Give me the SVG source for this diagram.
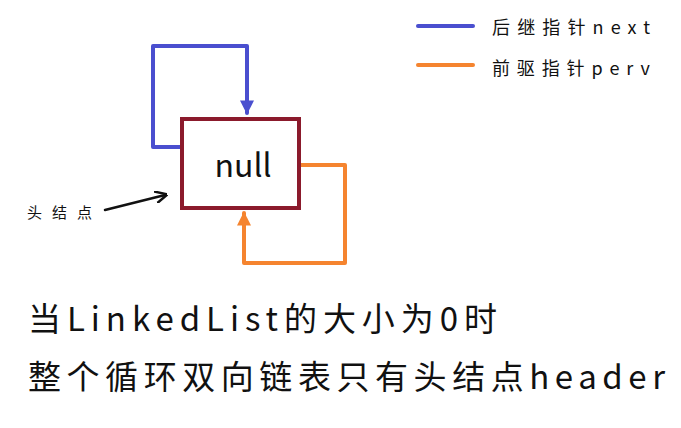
<svg xmlns="http://www.w3.org/2000/svg" width="681" height="428" viewBox="0 0 681 428">
<style>
.t{font-family:"Noto Sans CJK SC","Noto Sans",sans-serif;fill:#111}
.blue{stroke:#4a4fcf;stroke-width:4;fill:none;stroke-linecap:round;stroke-linejoin:round}
.orange{stroke:#f5842f;stroke-width:4;fill:none;stroke-linecap:round;stroke-linejoin:round}
</style>
<defs>
<marker id="ab" viewBox="0 0 10 10" refX="9" refY="5" markerWidth="3.5" markerHeight="3.5" orient="auto" markerUnits="strokeWidth"><path d="M0,0 L10,5 L0,10 z" fill="#4a4fcf"/></marker>
<marker id="ao" viewBox="0 0 10 10" refX="9" refY="5" markerWidth="3.5" markerHeight="3.5" orient="auto" markerUnits="strokeWidth"><path d="M0,0 L10,5 L0,10 z" fill="#f5842f"/></marker>
<marker id="ak" viewBox="0 0 10 10" refX="8" refY="5" markerWidth="5" markerHeight="5" orient="auto" markerUnits="strokeWidth"><path d="M0,0 L10,5 L0,10" fill="none" stroke="#111" stroke-width="2"/></marker>
</defs>
<rect width="681" height="428" fill="#fff"/>
<g id="legend">
<line x1="418" y1="26" x2="473" y2="26" class="blue"/>
<text class="t" x="492" y="34" font-size="18" textLength="158" lengthAdjust="spacing">后继指针next</text>
<line x1="418" y1="65" x2="473" y2="65" class="orange"/>
<text class="t" x="492" y="75" font-size="18" textLength="158" lengthAdjust="spacing">前驱指针perv</text>
</g>
<g id="connectors">
<path class="blue" d="M182,147 L153,147 L153,46 L247,46 L247,113" marker-end="url(#ab)"/>
<path class="orange" d="M299,165 L345,165 L345,263 L244,263 L244,213" marker-end="url(#ao)"/>
<path d="M105,210 L165,195" stroke="#111" stroke-width="2.5" fill="none" stroke-linecap="round" marker-end="url(#ak)"/>
</g>
<g id="header-node">
<rect x="182" y="119" width="117" height="89" fill="#fff" stroke="#8b1a2c" stroke-width="4"/>
<text class="t" x="243" y="177" font-size="32" text-anchor="middle">null</text>
</g>
<g id="label">
<text class="t" x="27" y="218" font-size="15" textLength="65" lengthAdjust="spacing">头结点</text>
</g>
<g id="caption">
<text class="t" x="28" y="331" font-size="33" textLength="469" lengthAdjust="spacing">当LinkedList的大小为0时</text>
<text class="t" x="28" y="389" font-size="33" textLength="637" lengthAdjust="spacing">整个循环双向链表只有头结点header</text>
</g>
</svg>
